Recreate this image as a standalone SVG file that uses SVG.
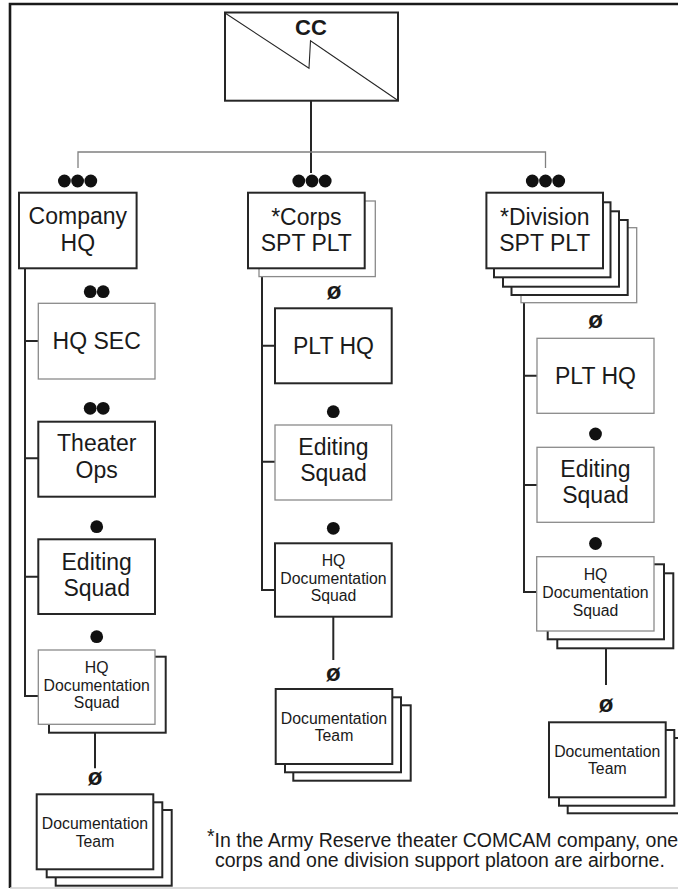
<svg xmlns="http://www.w3.org/2000/svg" width="678" height="890" viewBox="0 0 678 890">
<style>
.dk{fill:#fff;stroke:#262626;stroke-width:2}
.lt{fill:#fff;stroke:#8a8a8a;stroke-width:1.3}
.t{font-family:"Liberation Sans",Arial,sans-serif;font-size:23px;text-anchor:middle;fill:#1a1a1a}
.s{font-size:15.8px}
.c{stroke:#262626;stroke-width:2;fill:none}
.cl{stroke:#808080;stroke-width:1.3;fill:none}
.dot{fill:#111}
.z{font-family:"Liberation Sans",Arial,sans-serif;font-size:24px;font-weight:bold;text-anchor:middle;fill:#1a1a1a}
</style>
<rect width="678" height="890" fill="#fff"/>
<g id="frame">
<path d="M10,888 V4 H678" fill="none" stroke="#1a1a1a" stroke-width="2.6"/>
<line x1="10" y1="888" x2="678" y2="888" stroke="#d0d0d0" stroke-width="1.5"/>
</g>
<g id="connectors">
<line class="c" x1="311" y1="100.7" x2="311" y2="173"/>
<path class="cl" d="M78,168 V152 H545.5 V168"/>
<path class="c" d="M25,268 V696 H38.3 M25,341 H38.3 M25,458.3 H38.3 M25,576.7 H38.3"/>
<line class="c" x1="95" y1="732.7" x2="95" y2="768.3"/>
<path class="c" d="M262,277 V590 H275 M262,345.7 H275 M262,461.7 H275"/>
<line class="c" x1="333.3" y1="617" x2="333.3" y2="660"/>
<path class="c" d="M524,302.7 V592 H537 M524,375.7 H537 M524,485 H537"/>
<line class="c" x1="606" y1="648.3" x2="606" y2="685"/>
</g>
<g id="cc">
<rect class="dk" x="225" y="12.5" width="173" height="88.2"/>
<path d="M225,13 L309,68.3 L310.5,40.7 L398,100.5" fill="none" stroke="#262626" stroke-width="1.1"/>
<text class="t" x="311" y="35" style="font-weight:bold;font-size:22px">CC</text>
</g>
<g id="dots">
<circle class="dot" cx="64.4" cy="181" r="6.4"/><circle class="dot" cx="77.6" cy="181" r="6.4"/><circle class="dot" cx="90.8" cy="181" r="6.4"/>
<circle class="dot" cx="298.8" cy="181" r="6.4"/><circle class="dot" cx="312" cy="181" r="6.4"/><circle class="dot" cx="325.2" cy="181" r="6.4"/>
<circle class="dot" cx="532.3" cy="181" r="6.4"/><circle class="dot" cx="545.5" cy="181" r="6.4"/><circle class="dot" cx="558.7" cy="181" r="6.4"/>
<circle class="dot" cx="90.2" cy="291.7" r="6.4"/><circle class="dot" cx="103.2" cy="291.7" r="6.4"/>
<circle class="dot" cx="90.2" cy="408.3" r="6.4"/><circle class="dot" cx="103.2" cy="408.3" r="6.4"/>
<circle class="dot" cx="96.7" cy="526.7" r="6.4"/>
<circle class="dot" cx="96.7" cy="636.7" r="6.4"/>
<circle class="dot" cx="333.3" cy="411.7" r="6.4"/>
<circle class="dot" cx="333.3" cy="528.3" r="6.4"/>
<circle class="dot" cx="595.5" cy="434" r="6.4"/>
<circle class="dot" cx="595.5" cy="543.5" r="6.4"/>
<text class="z" x="334" y="299">ø</text>
<text class="z" x="595.5" y="328">ø</text>
<text class="z" x="333.3" y="681">ø</text>
<text class="z" x="95" y="784.5">ø</text>
<text class="z" x="606" y="711.5">ø</text>
</g>
<g id="company-hq">
<rect class="dk" x="19" y="192.7" width="117.6" height="75.6"/>
<text class="t" x="77.8" y="224">Company</text>
<text class="t" x="77.8" y="250.7">HQ</text>
</g>
<g id="corps-spt-plt">
<rect class="lt" x="259" y="201" width="116.3" height="75.6"/>
<rect class="dk" x="248" y="192.7" width="116.7" height="75.6"/>
<text class="t" x="306.3" y="225">*Corps</text>
<text class="t" x="306.3" y="250.7">SPT PLT</text>
</g>
<g id="division-spt-plt">
<rect class="lt" x="521" y="227.7" width="115.7" height="75"/>
<rect class="dk" x="511.5" y="220" width="116.2" height="75"/>
<rect class="dk" x="503" y="211.3" width="116" height="75.4"/>
<rect class="dk" x="494" y="202.3" width="116.5" height="75"/>
<rect class="dk" x="486.4" y="192.7" width="116.6" height="75.6"/>
<text class="t" x="544.8" y="225">*Division</text>
<text class="t" x="544.8" y="251">SPT PLT</text>
</g>
<g id="hq-sec">
<rect class="lt" x="38.3" y="303.3" width="116.7" height="75.7"/>
<text class="t" x="96.7" y="349">HQ SEC</text>
</g>
<g id="theater-ops">
<rect class="dk" x="38.3" y="421.7" width="116.7" height="75"/>
<text class="t" x="96.7" y="451">Theater</text>
<text class="t" x="96.7" y="477.7">Ops</text>
</g>
<g id="editing-squad-left">
<rect class="dk" x="38.3" y="539.3" width="116.7" height="74.7"/>
<text class="t" x="96.7" y="570">Editing</text>
<text class="t" x="96.7" y="596">Squad</text>
</g>
<g id="hq-doc-squad-left">
<rect class="dk" x="49" y="656.7" width="116.7" height="76"/>
<rect class="lt" x="38.3" y="650" width="116.7" height="74.3"/>
<text class="t s" x="96.7" y="673.3">HQ</text>
<text class="t s" x="96.7" y="690.7">Documentation</text>
<text class="t s" x="96.7" y="708.3">Squad</text>
</g>
<g id="doc-team-left">
<rect class="dk" x="55.7" y="810" width="116" height="75.7"/>
<rect class="dk" x="46.7" y="802.3" width="115.6" height="75"/>
<rect class="dk" x="36.7" y="794.3" width="116.6" height="75"/>
<text class="t s" x="95" y="829.3">Documentation</text>
<text class="t s" x="95" y="846.7">Team</text>
</g>
<g id="plt-hq-corps">
<rect class="dk" x="275" y="308.3" width="116.7" height="75"/>
<text class="t" x="333.5" y="354">PLT HQ</text>
</g>
<g id="editing-squad-corps">
<rect class="lt" x="275" y="425" width="116.7" height="75"/>
<text class="t" x="333.5" y="454.5">Editing</text>
<text class="t" x="333.5" y="480.5">Squad</text>
</g>
<g id="hq-doc-squad-corps">
<rect class="dk" x="275" y="543.3" width="116.7" height="73.4"/>
<text class="t s" x="333.5" y="566.3">HQ</text>
<text class="t s" x="333.5" y="583.7">Documentation</text>
<text class="t s" x="333.5" y="601.3">Squad</text>
</g>
<g id="doc-team-corps">
<rect class="dk" x="293.3" y="705.3" width="117.4" height="75.4"/>
<rect class="dk" x="285" y="697.3" width="116" height="75"/>
<rect class="dk" x="275.7" y="689" width="116.6" height="75"/>
<text class="t s" x="334" y="723.5">Documentation</text>
<text class="t s" x="334" y="741">Team</text>
</g>
<g id="plt-hq-division">
<rect class="lt" x="537" y="338.3" width="117" height="75"/>
<text class="t" x="595.5" y="383.5">PLT HQ</text>
</g>
<g id="editing-squad-division">
<rect class="lt" x="537" y="447.3" width="117" height="75"/>
<text class="t" x="595.5" y="477.3">Editing</text>
<text class="t" x="595.5" y="503">Squad</text>
</g>
<g id="hq-doc-squad-division">
<rect class="dk" x="557.3" y="573.3" width="116" height="75"/>
<rect class="dk" x="547.7" y="564.3" width="116.3" height="75"/>
<rect class="lt" x="536.7" y="556.7" width="117.3" height="74.3"/>
<text class="t s" x="595.5" y="580">HQ</text>
<text class="t s" x="595.5" y="598.3">Documentation</text>
<text class="t s" x="595.5" y="615.7">Squad</text>
</g>
<g id="doc-team-division">
<rect class="dk" x="567.7" y="738" width="117" height="75.3"/>
<rect class="dk" x="559" y="730" width="115.3" height="75.7"/>
<rect class="dk" x="549" y="722.3" width="116.7" height="75"/>
<text class="t s" x="607.3" y="756.7">Documentation</text>
<text class="t s" x="607.3" y="774">Team</text>
</g>
<g id="footnote">
<text x="207" y="846.7" style="font-family:'Liberation Sans',Arial,sans-serif;font-size:19.5px;fill:#1a1a1a"><tspan dy="-4">*</tspan><tspan dy="4">In the Army Reserve theater COMCAM company, one</tspan></text>
<text x="215" y="866.7" style="font-family:'Liberation Sans',Arial,sans-serif;font-size:19.5px;fill:#1a1a1a">corps and one division support platoon are airborne.</text>
</g>
</svg>
